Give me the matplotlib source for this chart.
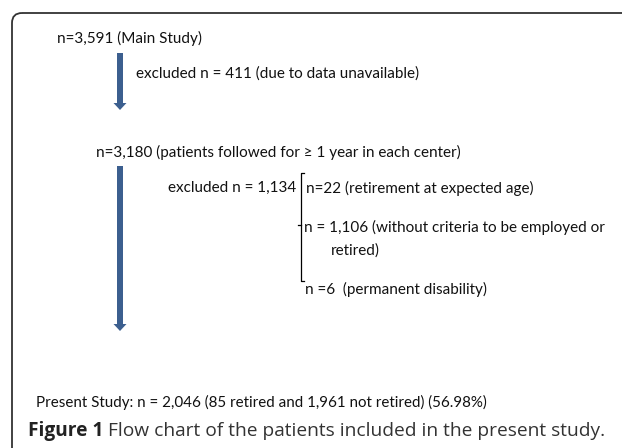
import matplotlib
matplotlib.use("Agg")
import matplotlib.pyplot as plt
from matplotlib.patches import FancyBboxPatch, FancyArrow

# Textos del diagrama de flujo
n_main = "n=3,591 (Main Study)"
excl_1 = "excluded n = 411 (due to data unavailable)"
n_followed = "n=3,180 (patients followed for \u2265 1 year in each center)"
excl_2 = "excluded n = 1,134"
excl_reasons = ["n=22 (retirement at expected age)",
                "n = 1,106 (without criteria to be employed or",
                "retired)",
                "n =6  (permanent disability)"]
present = "Present Study: n = 2,046 (85 retired and 1,961 not retired) (56.98%)"
caption_bold = "Figure 1"
caption_rest = " Flow chart of the patients included in the present study."

W, H = 622, 448
fig = plt.figure(figsize=(W / 100, H / 100), dpi=100)
ax = fig.add_axes([0, 0, 1, 1])
ax.set_xlim(0, W)
ax.set_ylim(H, 0)
ax.axis("off")

fuente = "Lato"
fs = 10.95
col_flecha = "#3c5f8f"


def ancho(t):
    # ancho de un texto en unidades de datos (pixeles)
    fig.canvas.draw()
    bb = t.get_window_extent().transformed(ax.transData.inverted())
    return bb.x0, bb.x1


def ajustar(t, objetivo):
    # ajusta el tamaño de fuente para que el texto ocupe el ancho objetivo
    x0, x1 = ancho(t)
    t.set_fontsize(t.get_fontsize() * objetivo / (x1 - x0))


# Marco redondeado (se sale por la derecha y abajo)
marco = FancyBboxPatch((12, 13), 660, 480, boxstyle="round,pad=0,rounding_size=10",
                       fill=False, ec="#333333", lw=1.3)
ax.add_patch(marco)


# Flechas
def flecha(x, y0, y1):
    ax.add_patch(FancyArrow(x, y0, 0, y1 - y0, width=6, head_width=13, head_length=7,
                            length_includes_head=True, color=col_flecha, lw=0))


flecha(120, 53, 110)
flecha(120, 166, 331)

# Corchete
ax.plot([304, 301, 301, 304], [173, 173, 281, 281], color="black", lw=0.9)
ax.plot([298, 301], [225, 225], color="black", lw=0.9)

kw = dict(family=fuente, fontsize=fs, va="center", ha="left", color="#111111")
ax.text(57, 38, n_main, **kw)
ax.text(136, 74, excl_1, **kw)
ax.text(96, 152, n_followed, **kw)
ax.text(296, 188, excl_2, **{**kw, "ha": "right"})
ax.text(306, 188, excl_reasons[0], **kw)
ax.text(304, 227, excl_reasons[1], **kw)
ax.text(331, 251, excl_reasons[2], **kw)
ax.text(305, 289, excl_reasons[3], **kw)

tp = ax.text(36, 402, present, family="Lato", fontsize=10.2,
             va="center", ha="left", color="#111111")
ajustar(tp, 449)

# Pie de figura: parte en negrita y resto normal
t1 = ax.text(28, 431, caption_bold, family="Open Sans", fontweight="bold", fontsize=13.8,
             va="center", ha="left", color="#222222")
t2 = ax.text(100, 431, caption_rest, family="Open Sans", fontsize=13.8,
             va="center", ha="left", color="#333333")
_, xb = ancho(t1)
t2.set_x(xb)
_, xe = ancho(t2)
escala = (605 - 28) / (xe - 28)
t1.set_fontsize(13.8 * escala)
t2.set_fontsize(13.8 * escala)
_, xb = ancho(t1)
t2.set_x(xb)

fig.savefig("out.png", dpi=100)
